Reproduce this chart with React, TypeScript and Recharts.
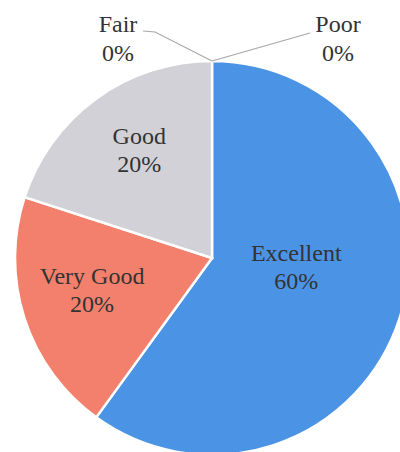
import React from 'react';
import { PieChart, Pie, Cell } from 'recharts';

const categories = ['Excellent', 'Very Good', 'Good', 'Fair', 'Poor'];
const counts = [60, 20, 20, 0, 0];
const colors = ['#4b94e5', '#f2806c', '#d1d1d7', '#b0b0b0', '#b0b0b0'];

const data = categories.map((name, i) => ({ name, value: counts[i] }));

const RAD = Math.PI / 180;
const textStyle = { fontFamily: "'Liberation Serif', 'Times New Roman', serif", fontSize: 24 };

// where Excel put the inside labels: [radius factor, angle in degrees]
const insideSpot: Record<string, [number, number]> = {
  Excellent: [0.43, -6],
  'Very Good': [0.63, -165],
  Good: [0.66, 124],
};

const renderLabel = (props: any) => {
  const { cx, cy, midAngle, outerRadius, percent, name } = props;
  const pct = `${Math.round(percent * 100)}%`;

  if (props.value === 0) {
    // zero slices sit at the top; pull the label out to the side with a leader line
    const left = name === 'Fair';
    const topX = cx;
    const topY = cy - outerRadius;
    const tx = left ? cx - 94 : cx + 126;
    const pts = left
      ? `${topX},${topY} ${cx - 57},${topY - 29} ${cx - 69},${topY - 30}`
      : `${topX},${topY} ${cx + 98},${topY - 28}`;
    return (
      <g key={name}>
        <polyline points={pts} fill="none" stroke="#a8a8a8" strokeWidth={1.2} />
        <text x={tx} y={32} textAnchor="middle" style={textStyle} fill="#333">
          <tspan x={tx} dy={0}>{name}</tspan>
          <tspan x={tx} dy={29}>{pct}</tspan>
        </text>
      </g>
    );
  }

  const spot = insideSpot[name] || [0.6, midAngle];
  const r = outerRadius * spot[0];
  const x = cx + r * Math.cos(spot[1] * RAD);
  const y = cy - r * Math.sin(spot[1] * RAD);
  return (
    <text key={name} x={x} y={y - 6} textAnchor="middle" style={textStyle} fill="#333">
      <tspan x={x} dy={0}>{name}</tspan>
      <tspan x={x} dy={28}>{pct}</tspan>
    </text>
  );
};

export default function App() {
  return (
    <div style={{ position: 'absolute', left: 0, top: 0, width: 400, height: 452, background: '#fff' }}>
      <PieChart width={400} height={452} margin={{ top: 0, right: 0, bottom: 0, left: 0 }}>
        <Pie
          data={data}
          dataKey="value"
          nameKey="name"
          cx={212}
          cy={258}
          outerRadius={197}
          startAngle={90}
          endAngle={-270}
          stroke="#ffffff"
          strokeWidth={2.5}
          label={renderLabel}
          labelLine={false}
          isAnimationActive={false}
        >
          {data.map((d, i) => (
            <Cell key={d.name} fill={colors[i]} />
          ))}
        </Pie>
      </PieChart>
    </div>
  );
}
